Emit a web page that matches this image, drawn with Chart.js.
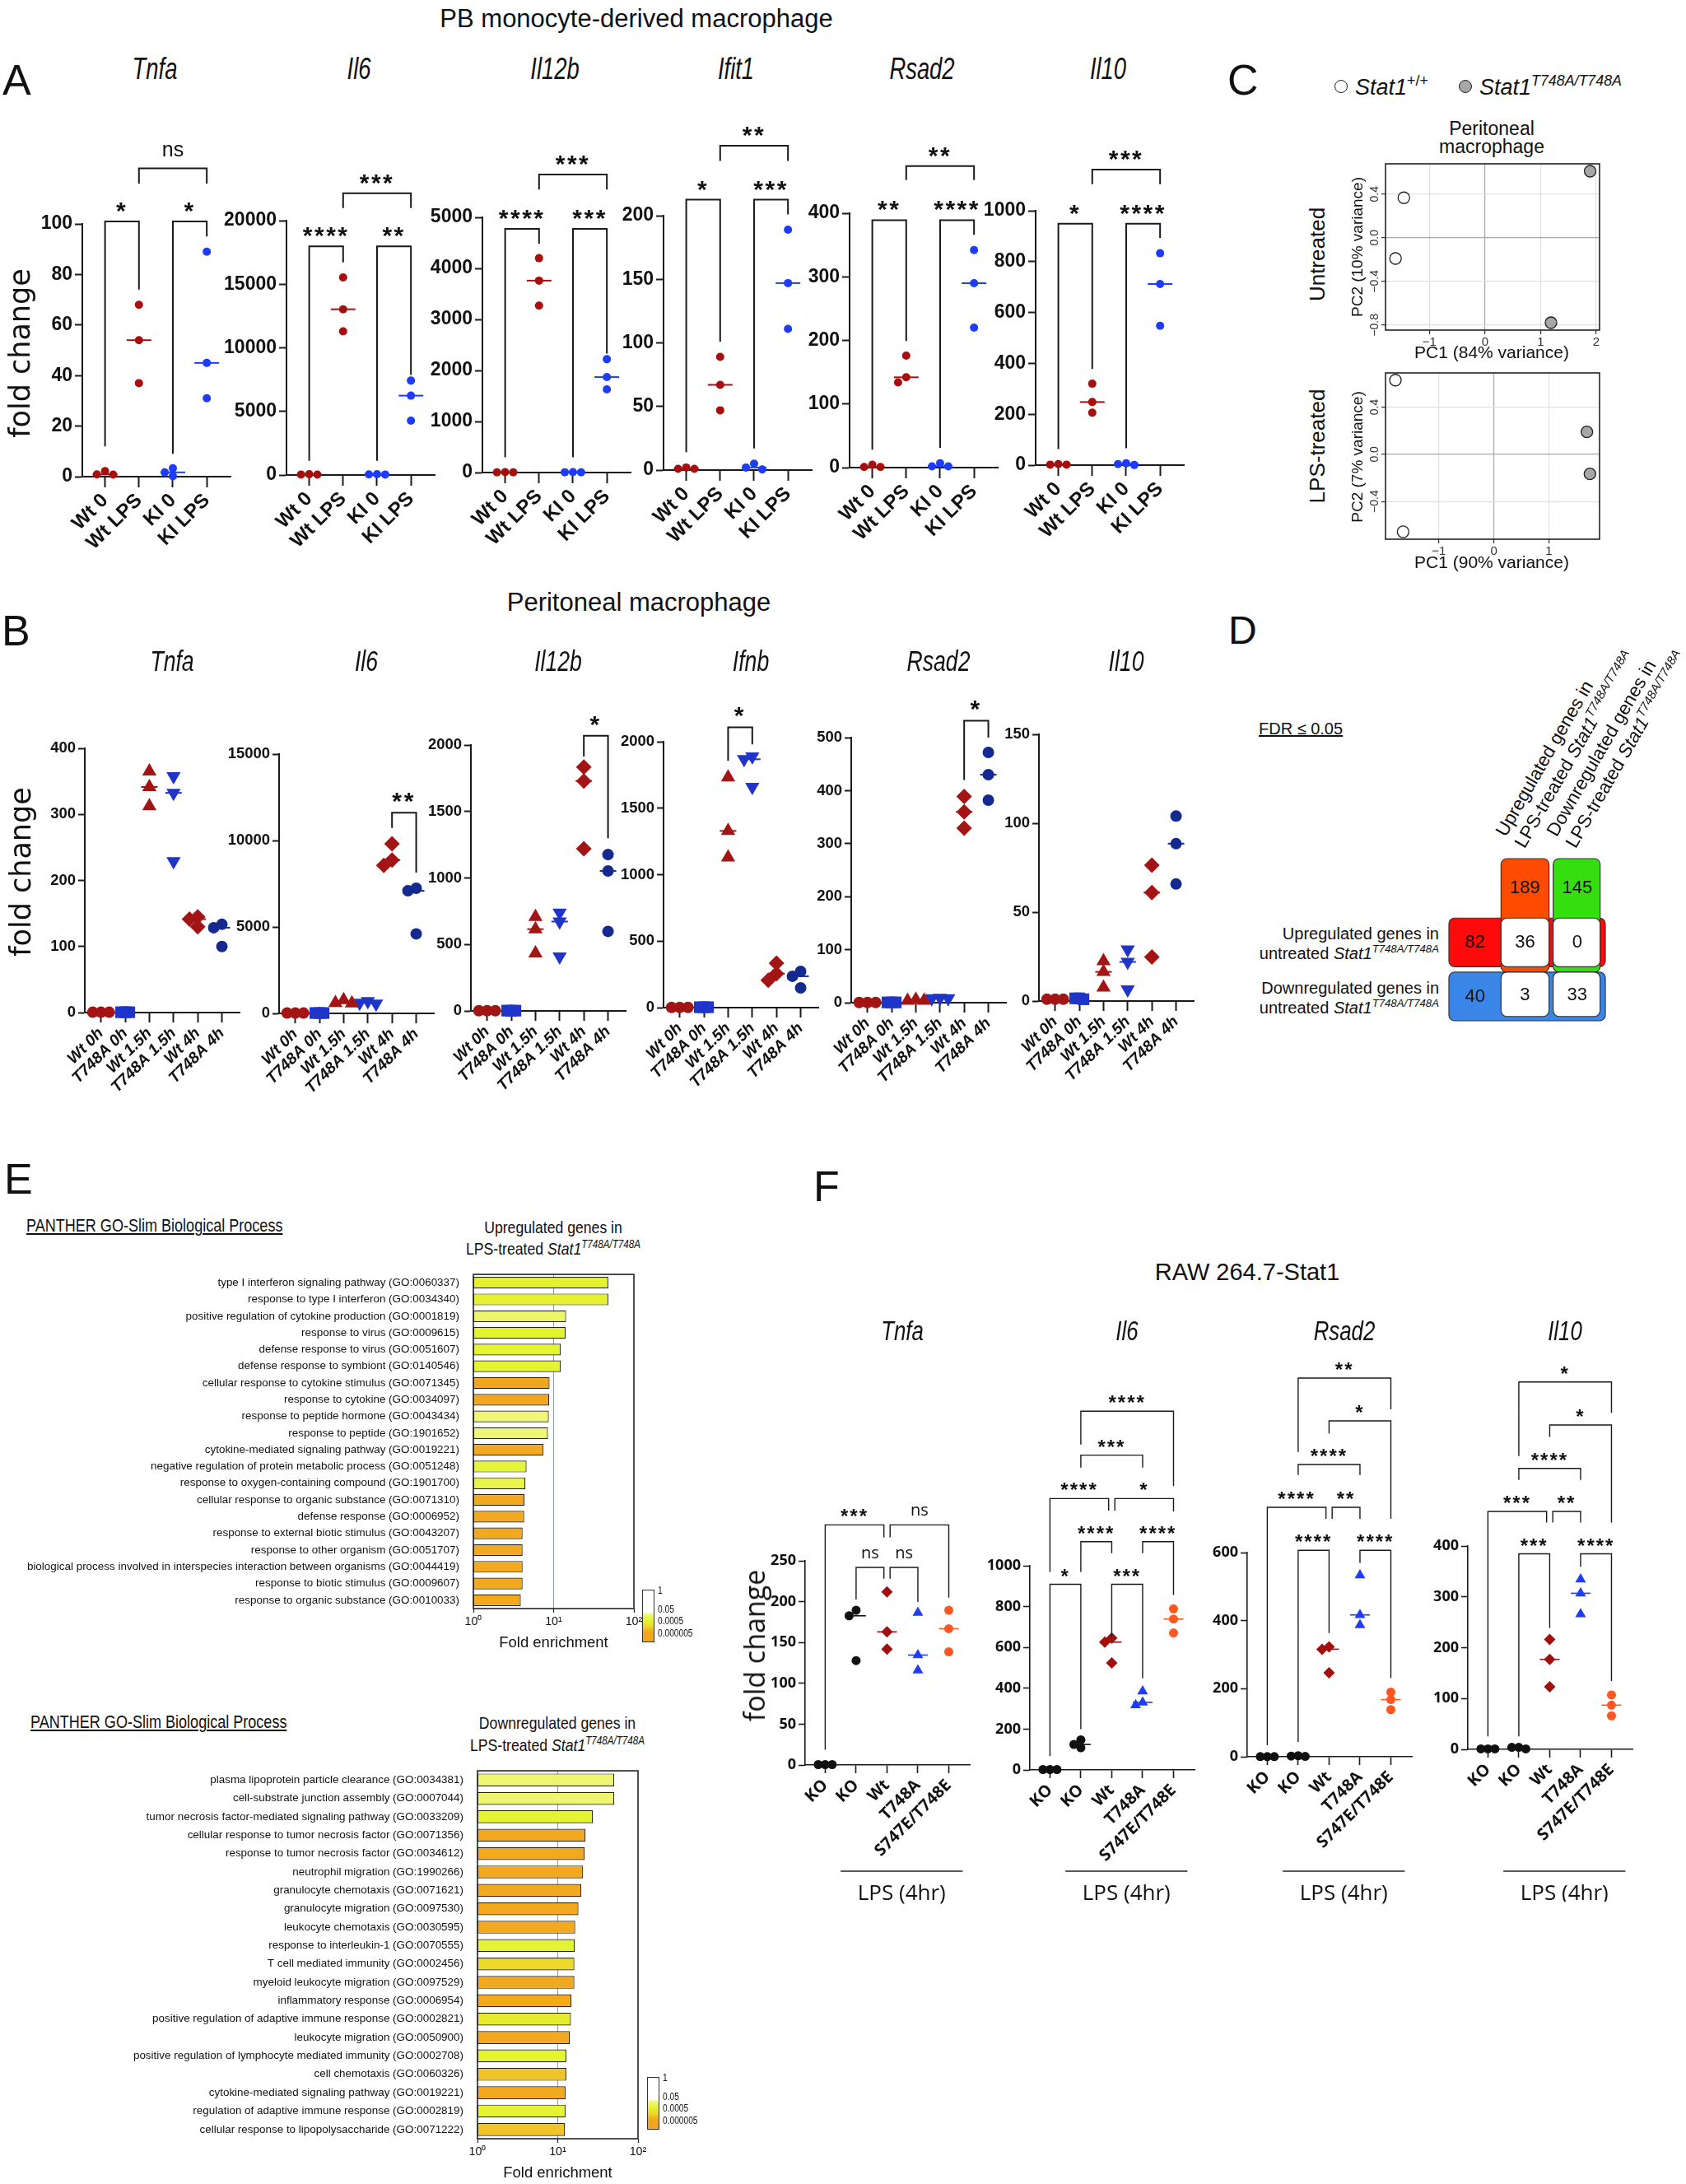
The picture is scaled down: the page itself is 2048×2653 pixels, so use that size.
<!DOCTYPE html>
<html><head><meta charset="utf-8">
<script src="https://cdn.jsdelivr.net/npm/chart.js@4.4.1/dist/chart.umd.min.js"></script>
<style>
html,body{margin:0;padding:0;background:#fff}
#page{position:relative;width:2048px;height:2653px;overflow:hidden;background:#fff;font-family:'Liberation Sans',Arial,sans-serif;color:#111}
#page div.t{position:absolute;white-space:nowrap}
#page canvas{position:absolute}
</style></head>
<body><div id="page"></div>
<script>
// -------------------------------
// Data
// -------------------------------

// A: PB monocyte-derived macrophage (fold change, 3 replicates per group)
const aGenes = ["Tnfa", "Il6", "Il12b", "Ifit1", "Rsad2", "Il10"];
const aCats = ["Wt 0", "Wt LPS", "KI 0", "KI LPS"];
const aTicks = [[0, 20, 40, 60, 80, 100], [0, 5000, 10000, 15000, 20000], [0, 1000, 2000, 3000, 4000, 5000],
                [0, 50, 100, 150, 200], [0, 100, 200, 300, 400], [0, 200, 400, 600, 800, 1000]];
const aTnfa  = [[0.8, 2.2, 0.9], [68, 54, 37], [0.2, 3.3, 1.7], [89, 45, 31]];
const aIl6   = [[40, 60, 30], [15530, 13030, 11290], [50, 70, 40], [7420, 6240, 4270]];
const aIl12b = [[4, 8, 5], [4200, 3760, 3270], [5, 9, 6], [2220, 1870, 1630]];
const aIfit1 = [[1, 2, 1], [89, 67, 47], [0.5, 5, 2], [189, 147, 111]];
const aRsad2 = [[1, 4.5, 1], [176, 142, 134], [2, 6.7, 2], [342, 290, 220]];
const aIl10  = [[2, 4, 2], [320, 248, 206], [0.5, 7, 4], [833, 712, 548]];
// brackets: [from, to, y, left leg end, right leg end, label]
const aBrTnfa  = [[0, 1, 101, 12, 74, "*"], [2, 3, 101, 9, 95, "*"], [1, 3, 122, 116, 116, "ns"]];
const aBrIl6   = [[0, 1, 17980, 1120, 16710, "****"], [2, 3, 17980, 1120, 7865, "**"], [1, 3, 22160, 20980, 20980, "***"]];
const aBrIl12b = [[0, 1, 4776, 300, 4483, "****"], [2, 3, 4776, 300, 2329, "***"], [1, 3, 5839, 5545, 5545, "***"]];
const aBrIfit1 = [[0, 1, 212.6, 14, 101, "*"], [2, 3, 212.6, 17, 201, "***"], [1, 3, 255, 243, 243, "**"]];
const aBrRsad2 = [[0, 1, 389, 28, 199, "**"], [2, 3, 389, 31, 366, "****"], [1, 3, 474, 452, 452, "**"]];
const aBrIl10  = [[0, 1, 949, 63, 378, "*"], [2, 3, 949, 66, 893, "****"], [1, 3, 1162, 1104, 1104, "***"]];

// B: Peritoneal macrophage
const bGenes = ["Tnfa", "Il6", "Il12b", "Ifnb", "Rsad2", "Il10"];
const bCats = ["Wt 0h", "T748A 0h", "Wt 1.5h", "T748A 1.5h", "Wt 4h", "T748A 4h"];
const bTicks = [[0, 100, 200, 300, 400], [0, 5000, 10000, 15000], [0, 500, 1000, 1500, 2000],
                [0, 500, 1000, 1500, 2000], [0, 100, 200, 300, 400, 500], [0, 50, 100, 150]];
const bTnfa  = [[0.5, 0.5, 0.5], [0.5, 0.5, 0.5], [365, 341.5, 312.5], [357.5, 332.5, 229], [145, 141.5, 130], [133.5, 128.5, 100]];
const bIl6   = [[20, 20, 20], [20, 20, 20], [580, 770, 610], [700, 560, 610], [9810, 8870, 8560], [7240, 7090, 4600]];
const bIl12b = [[2, 2, 2], [2, 2, 2], [708, 615, 433], [738, 672, 408], [1835, 1729, 1220], [1176, 1053, 598]];
const bIfnb  = [[2, 2, 2], [3, 3, 3], [1732, 1329, 1130], [1888, 1868, 1660], [335, 256, 206], [273, 236, 149]];
const bRsad2 = [[0.5, 0.5, 0.5], [0.5, 0.5, 0.5], [4, 6, 4], [8, 9, 8], [389, 360, 329], [472, 430, 382]];
const bIl10  = [[1, 1, 1], [1, 1.5, 1.5], [22.4, 16.4, 7.6], [28.9, 22, 6.5], [76.4, 61, 24.8], [104, 88.5, 65.8]];
const bBrIl6 = [[4, 5, 11610, 10730, 8140, "**"]];
const bBrIl12b = [[4, 5, 2069, 1914, 1299, "*"]];
const bBrIfnb = [[2, 3, 2109, 1856, 1980, "*"]];
const bBrRsad2 = [[4, 5, 532, 420, 500, "*"]];

// C: PCA
const cUntrWt = [[-1.46, 0.366], [-1.61, -0.19]];
const cUntrKi = [[1.89, 0.609], [1.186, -0.778]];
const cLpsWt = [[-1.79, 0.629], [-1.65, -0.657]];
const cLpsKi = [[1.69, 0.19], [1.745, -0.166]];
const cUntrXTicks = [-1, 0, 1, 2], cUntrYTicks = [-0.8, -0.4, 0, 0.4];
const cLpsXTicks = [-1, 0, 1], cLpsYTicks = [-0.4, 0, 0.4];

// D: overlap table (FDR <= 0.05)
const dLps = [189, 145];          // up / down in LPS-treated
const dUntr = [82, 40];           // up / down in untreated
const dOverlap = [[36, 0], [3, 33]];

// E: PANTHER GO-Slim
const goUpLabels = [
  "type I interferon signaling pathway (GO:0060337)", "response to type I interferon (GO:0034340)",
  "positive regulation of cytokine production (GO:0001819)", "response to virus (GO:0009615)",
  "defense response to virus (GO:0051607)", "defense response to symbiont (GO:0140546)",
  "cellular response to cytokine stimulus (GO:0071345)", "response to cytokine (GO:0034097)",
  "response to peptide hormone (GO:0043434)", "response to peptide (GO:1901652)",
  "cytokine-mediated signaling pathway (GO:0019221)", "negative regulation of protein metabolic process (GO:0051248)",
  "response to oxygen-containing compound (GO:1901700)", "cellular response to organic substance (GO:0071310)",
  "defense response (GO:0006952)", "response to external biotic stimulus (GO:0043207)",
  "response to other organism (GO:0051707)", "biological process involved in interspecies interaction between organisms (GO:0044419)",
  "response to biotic stimulus (GO:0009607)", "response to organic substance (GO:0010033)"];
const goUpFold = [48, 48, 14.3, 14.1, 12.3, 12.3, 8.9, 8.8, 8.7, 8.5, 7.5, 4.6, 4.45, 4.35, 4.3, 4.1, 4.1, 4.1, 4.1, 3.9];
const goUpP = [4e-4, 4e-4, 5e-3, 5e-4, 5e-4, 5e-4, 5e-6, 5e-6, 8e-3, 8e-3, 6e-6, 7e-4, 1.5e-3, 6e-6, 6e-6, 6e-6, 6e-6, 6e-6, 6e-6, 6e-6];
const goDownLabels = [
  "plasma lipoprotein particle clearance (GO:0034381)", "cell-substrate junction assembly (GO:0007044)",
  "tumor necrosis factor-mediated signaling pathway (GO:0033209)", "cellular response to tumor necrosis factor (GO:0071356)",
  "response to tumor necrosis factor (GO:0034612)", "neutrophil migration (GO:1990266)",
  "granulocyte chemotaxis (GO:0071621)", "granulocyte migration (GO:0097530)",
  "leukocyte chemotaxis (GO:0030595)", "response to interleukin-1 (GO:0070555)",
  "T cell mediated immunity (GO:0002456)", "myeloid leukocyte migration (GO:0097529)",
  "inflammatory response (GO:0006954)", "positive regulation of adaptive immune response (GO:0002821)",
  "leukocyte migration (GO:0050900)", "positive regulation of lymphocyte mediated immunity (GO:0002708)",
  "cell chemotaxis (GO:0060326)", "cytokine-mediated signaling pathway (GO:0019221)",
  "regulation of adaptive immune response (GO:0002819)", "cellular response to lipopolysaccharide (GO:0071222)"];
const goDownFold = [50.4, 50.4, 27.3, 22.2, 21.7, 20.7, 19.7, 18.1, 16.5, 16.3, 16.1, 16.1, 14.8, 14.6, 14.1, 12.8, 12.8, 12.5, 12.5, 12.3];
const goDownP = [7e-3, 7e-3, 5e-4, 6e-6, 6e-6, 6e-6, 6e-6, 6e-6, 6e-6, 5e-4, 1e-4, 6e-6, 6e-6, 3e-4, 6e-6, 5e-4, 3e-5, 6e-6, 5e-4, 3e-5];
const goTicks = [1, 10, 100];
const goTickLabels = ["10\u2070", "10\u00b9", "10\u00b2"];
const pLegend = ["1", "0.05", "0.0005", "0.000005"];

// F: RAW 264.7-Stat1
const fGenes = ["Tnfa", "Il6", "Rsad2", "Il10"];
const fCats = ["KO", "KO", "Wt", "T748A", "S747E/T748E"];
const fTicks = [[0, 50, 100, 150, 200, 250], [0, 200, 400, 600, 800, 1000], [0, 200, 400, 600], [0, 100, 200, 300, 400]];
const fTnfa  = [[0.5, 0.5, 0.5], [189.5, 182.7, 127.8], [212, 163, 142], [186.6, 134.6, 116], [189.5, 166.9, 138.6]];
const fIl6   = [[2, 2, 2], [108.8, 147.4, 124.7], [646, 626, 524], [385.5, 317.5, 331], [789, 739, 671]];
const fRsad2 = [[0.5, 0.5, 0.5], [1, 3, 2], [323, 316, 247], [533.5, 416.7, 386.8], [190, 168, 138.5]];
const fIl10  = [[1, 1, 1], [1, 4, 4], [216, 177, 123], [334.5, 307, 266], [107, 87, 66]];
// [from, to, y, left leg end, right leg end, label, from shift, to shift]
const fBrTnfa = [[0, 2, 294, 18.7, 278.8, "***", 0, -0.1], [2, 4, 294, 278.8, 205, "ns", 0.1, 0],
                 [1, 2, 242, 202.5, 228, "ns", 0, -0.1], [2, 3, 242, 228, 199.7, "ns", 0.1, 0]];
const fBrIl6 = [[0, 1, 909, 68, 199.5, "*"], [2, 3, 909, 653, 449, "***"], [1, 2, 1118, 970, 1061, "****"],
                [3, 4, 1118, 1061, 857, "****"], [0, 2, 1329, 970, 1270, "****", 0, -0.1], [2, 4, 1329, 1270, 1266, "*", 0.1, 0],
                [1, 3, 1542, 1481, 1481, "***"], [1, 4, 1757, 1594, 1390, "****"]];
const fBrRsad2 = [[1, 2, 606.8, 43.4, 363.8, "****"], [3, 4, 606.8, 570, 230.8, "****"], [0, 2, 733, 34, 699, "****", 0, -0.1],
                  [2, 3, 733, 699, 699, "**", 0.1, 0], [1, 3, 859, 828, 828, "****"], [2, 4, 987, 950, 699, "*"],
                  [1, 4, 1113, 896, 1021, "**"]];
const fBrIl10 = [[1, 2, 384.5, 25.5, 239, "***"], [3, 4, 384.5, 359, 134.5, "****"], [0, 2, 468, 25.5, 446, "***", 0, -0.1],
                 [2, 3, 468, 446, 446, "**", 0.1, 0], [1, 3, 552.7, 530, 530, "****"], [2, 4, 638, 614.5, 446, "*"],
                 [1, 4, 722.7, 577, 662, "*"]];

// -------------------------------
// Helpers
// -------------------------------
const page = document.getElementById("page");
const SANS = "'Liberation Sans', Arial, sans-serif";
const OPEN = "'Open Sans', 'Liberation Sans', sans-serif";

function hasFont(name) {
    const c = document.createElement("canvas").getContext("2d");
    const s = "mmmmmmmmmmlli WWW 0123456789";
    c.font = "40px monospace";
    const a = c.measureText(s).width;
    c.font = `40px '${name}', monospace`;
    return c.measureText(s).width !== a;
}
const NARROW_OK = hasFont("Liberation Sans Narrow");
const NARROW = NARROW_OK ? "'Liberation Sans Narrow', 'Liberation Sans', sans-serif" : SANS;
const NK = NARROW_OK ? 1 : 0.84;

function addCanvas(l, t, w, h) {
    const c = document.createElement("canvas");
    c.width = Math.round(w); c.height = Math.round(h);
    c.style.left = Math.round(l) + "px"; c.style.top = Math.round(t) + "px";
    c.style.width = Math.round(w) + "px"; c.style.height = Math.round(h) + "px";
    page.appendChild(c);
    return c;
}

function txt(html, x, base, fs, css = "", align = "left", sx = 1) {
    const d = document.createElement("div");
    d.className = "t";
    d.innerHTML = html;
    const tx = align === "center" ? "-50%" : align === "right" ? "-100%" : "0";
    const ox = align === "center" ? "50%" : align === "right" ? "100%" : "0";
    d.style.cssText = `left:${x}px;top:${base - 0.85 * fs}px;font-size:${fs}px;line-height:${fs}px;` +
        `transform-origin:${ox} 50%;transform:translateX(${tx}) scaleX(${sx});${css}`;
    page.appendChild(d);
    return d;
}
function vtxt(html, cx, cy, fs, css = "") {
    const d = document.createElement("div");
    d.className = "t";
    d.innerHTML = html;
    d.style.cssText = `left:${cx}px;top:${cy}px;font-size:${fs}px;line-height:${fs}px;transform:translate(-50%,-50%) rotate(-90deg);${css}`;
    page.appendChild(d);
}
function stxt(html, bx, by, fs, deg) {
    const d = document.createElement("div");
    d.className = "t";
    d.innerHTML = html;
    d.style.cssText = `left:${bx}px;top:${by - 0.85 * fs}px;font-size:${fs}px;line-height:${fs}px;transform-origin:0 ${0.85 * fs}px;transform:rotate(${deg}deg)`;
    page.appendChild(d);
}
const sup = s => `<span style="font-size:0.66em;position:relative;top:-0.62em">${s}</span>`;
const stat1 = `<i>Stat1</i>${sup("<i>T748A/T748A</i>")}`;

function median(a) {
    const s = [...a].sort((p, q) => p - q);
    return s[Math.floor(s.length / 2)];
}

// spread overlapping replicate points sideways (like a scatter dot plot)
function dodge(vals, pxY, pxX, gap) {
    const step = gap / pxX;
    const cand = [0, -step, step, -2 * step, 2 * step];
    const order = vals.map((v, i) => i).sort((a, b) => vals[b] - vals[a]);
    const placed = [], offs = vals.map(() => 0);
    order.forEach(i => {
        let c = cand.find(c => placed.every(p => Math.hypot((p.x - c) * pxX, (p.v - vals[i]) * pxY) >= gap - 0.5));
        if (c === undefined) c = 0;
        offs[i] = c;
        placed.push({ x: c, v: vals[i] });
    });
    return offs;
}

function pColor(p) {
    const t = -Math.log10(p);
    const stops = [[0, [255, 255, 255]], [1.3, [246, 248, 175]], [2.2, [238, 245, 110]], [3.3, [228, 244, 48]],
                   [4.3, [240, 205, 40]], [5.3, [242, 166, 30]]];
    if (t >= stops[stops.length - 1][0]) return `rgb(${stops[stops.length - 1][1].join(",")})`;
    for (let i = 1; i < stops.length; i++) {
        if (t <= stops[i][0]) {
            const [t0, c0] = stops[i - 1], [t1, c1] = stops[i];
            const f = (t - t0) / (t1 - t0);
            return `rgb(${c0.map((c, k) => Math.round(c + (c1[k] - c) * f)).join(",")})`;
        }
    }
}

// -------------------------------
// Plugins
// -------------------------------
const bracketPlugin = {
    id: "brackets",
    afterDatasetsDraw(chart) {
        const list = chart.canvas._brackets, o = chart.canvas._br;
        if (!list) return;
        const { ctx, scales: { x, y } } = chart;
        ctx.save();
        ctx.strokeStyle = "#1a1a1a"; ctx.fillStyle = "#111"; ctx.lineWidth = o.lw;
        ctx.textAlign = "center"; ctx.textBaseline = "alphabetic";
        list.forEach(([a, b, yv, ya, yb, t, da = 0, db = 0]) => {
            const x1 = x.getPixelForValue(a + da), x2 = x.getPixelForValue(b + db), py = y.getPixelForValue(yv);
            ctx.beginPath();
            ctx.moveTo(x1, y.getPixelForValue(ya)); ctx.lineTo(x1, py);
            ctx.lineTo(x2, py); ctx.lineTo(x2, y.getPixelForValue(yb));
            ctx.stroke();
            const star = t.indexOf("*") >= 0;
            ctx.font = star ? o.starFont : o.nsFont;
            ctx.letterSpacing = star ? o.sp : "0px";
            ctx.fillText(t, (x1 + x2) / 2, py - (star ? o.starOff : o.nsOff));
        });
        ctx.restore();
    }
};

const lpsPlugin = {
    id: "lps",
    afterDraw(chart) {
        const L = chart.canvas._lps;
        if (!L) return;
        const { ctx, scales: { x, y } } = chart;
        const y0 = y.getPixelForValue(0), x1 = x.getPixelForValue(L.from), x2 = x.getPixelForValue(L.to);
        ctx.save();
        ctx.strokeStyle = "#222"; ctx.lineWidth = 1.6;
        ctx.beginPath(); ctx.moveTo(x1, y0 + L.lineDy); ctx.lineTo(x2, y0 + L.lineDy); ctx.stroke();
        ctx.font = L.font; ctx.fillStyle = "#111"; ctx.textAlign = "center";
        ctx.fillText(L.text, (x1 + x2) / 2, y0 + L.textDy);
        ctx.restore();
    }
};

const framePlugin = {
    id: "frame",
    afterDraw(chart) {
        if (!chart.canvas._frame) return;
        const { ctx, chartArea: a } = chart;
        ctx.save();
        ctx.strokeStyle = "#222"; ctx.lineWidth = chart.canvas._frame;
        ctx.strokeRect(a.left, a.top, a.right - a.left, a.bottom - a.top);
        ctx.restore();
    }
};

const pcaYPlugin = {
    id: "pcay",
    afterDraw(chart) {
        const yt = chart.canvas._yt;
        if (!yt) return;
        const { ctx, chartArea: a, scales: { y } } = chart;
        ctx.save();
        ctx.font = `14px ${SANS}`; ctx.fillStyle = "#333"; ctx.textAlign = "center"; ctx.textBaseline = "alphabetic";
        yt.forEach(v => {
            ctx.save();
            ctx.translate(a.left - 9, y.getPixelForValue(v));
            ctx.rotate(-Math.PI / 2);
            ctx.fillText((v < 0 ? "\u2212" : "") + Math.abs(v).toFixed(1), 0, 0);
            ctx.restore();
        });
        ctx.restore();
    }
};

// -------------------------------
// Dot plot (GraphPad style)
// -------------------------------
function dotChart(o) {
    const plotH = o.yZero - o.yTop;
    const cv = addCanvas(o.axisX - o.yAxisW, o.yTop - o.padTop, o.yAxisW + o.plotW + o.padR, o.padTop + plotH + o.xAxisH);
    cv._brackets = o.brackets; cv._br = o.br; cv._lps = o.lps;
    const ymax = o.ticks[o.ticks.length - 1];
    const pxY = plotH / ymax, pxX = o.plotW / (o.xmax - o.xmin);
    const datasets = [];
    o.groups.forEach((vals, i) => {
        const st = o.styles[i];
        const offs = dodge(vals, pxY, pxX, st.gap || o.gap);
        const m = median(vals), hw = o.medHalf / pxX;
        datasets.push({ data: [{ x: i - hw, y: m }, { x: i + hw, y: m }], showLine: true, borderColor: st.color,
                        borderWidth: o.medW, pointRadius: 0, clip: false });
        datasets.push({ data: vals.map((v, k) => ({ x: i + offs[k], y: v })), showLine: false,
                        pointStyle: st.shape, pointRotation: st.rot || 0, pointRadius: st.r,
                        pointBackgroundColor: st.color, pointBorderColor: st.color, pointBorderWidth: 0, clip: false });
    });
    const ax = "#1a1a1a";
    return new Chart(cv, {
        type: "scatter",
        data: { datasets },
        options: {
            responsive: false, animation: false, events: [], devicePixelRatio: 1,
            layout: { padding: { top: o.padTop, right: o.padR, left: 0, bottom: 0 }, autoPadding: false },
            plugins: { legend: { display: false }, tooltip: { enabled: false } },
            scales: {
                x: {
                    type: "linear", min: o.xmin, max: o.xmax,
                    afterBuildTicks: s => { s.ticks = o.cats.map((c, i) => ({ value: i })); },
                    afterFit: s => { s.height = o.xAxisH; },
                    ticks: { autoSkip: false, minRotation: 45, maxRotation: 45, padding: o.catPad, font: o.catFont,
                             color: "#111", callback: v => o.cats[v] },
                    grid: { drawOnChartArea: false, drawTicks: true, tickLength: o.xTickLen, tickColor: ax, tickWidth: o.axisW },
                    border: { color: ax, width: o.axisW }
                },
                y: {
                    type: "linear", min: 0, max: ymax,
                    afterBuildTicks: s => { s.ticks = o.ticks.map(v => ({ value: v })); },
                    afterFit: s => { s.width = o.yAxisW; },
                    ticks: { padding: 3, font: o.tickFont, color: "#111", callback: v => String(v) },
                    grid: { drawOnChartArea: false, drawTicks: true, tickLength: o.yTickLen, tickColor: ax, tickWidth: o.axisW },
                    border: { color: ax, width: o.axisW }
                }
            }
        },
        plugins: [bracketPlugin, lpsPlugin]
    });
}

// -------------------------------
// Panel A
// -------------------------------
const aData = [aTnfa, aIl6, aIl12b, aIfit1, aRsad2, aIl10];
const aBr = [aBrTnfa, aBrIl6, aBrIl12b, aBrIfit1, aBrRsad2, aBrIl10];
const aAxisX = [100, 348, 586, 806, 1032, 1258];
const aTop = [272, 268, 264, 261.5, 259, 256];
const aZero = [579, 577, 574, 570, 568, 565];
const aRed = "#a70f0f", aBlue = "#1d3cfb";
const aStyles = [{ shape: "circle", r: 5, color: aRed }, { shape: "circle", r: 5, color: aRed },
                 { shape: "circle", r: 5, color: aBlue }, { shape: "circle", r: 5, color: aBlue }];
aGenes.forEach((g, i) => {
    dotChart({
        axisX: aAxisX[i], yTop: aTop[i], yZero: aZero[i], plotW: 180, xmin: -0.67, xmax: 3.7,
        padTop: 140, padR: 8, yAxisW: 90, xAxisH: 115,
        ticks: aTicks[i], cats: aCats, groups: aData[i], styles: aStyles, brackets: aBr[i],
        gap: 9.9, medHalf: 15, medW: 2, axisW: 2, yTickLen: 9, xTickLen: 13, catPad: 2,
        tickFont: { family: SANS, size: 23, weight: "bold" }, catFont: { family: SANS, size: 24, weight: "bold" },
        br: { lw: 2, starFont: `bold 30px ${SANS}`, nsFont: `25px ${SANS}`, starOff: 3, nsOff: 14, sp: "2.5px" }
    });
    txt(`<i>${g}</i>`, aAxisX[i] + 88, 96, 37, "", "center", 0.74);
});
txt("PB monocyte-derived macrophage", 773, 33, 31, "", "center");
txt("A", 3, 115, 52);
vtxt("fold change", 24, 429, 35, "font-family:'DejaVu Sans',sans-serif");

// -------------------------------
// Panel B
// -------------------------------
const bData = [bTnfa, bIl6, bIl12b, bIfnb, bRsad2, bIl10];
const bBr = [[], bBrIl6, bBrIl12b, bBrIfnb, bBrRsad2, []];
const bAxisX = [103, 339, 572, 806, 1034, 1262];
const bTop = [909, 915.5, 905, 901, 896, 892];
const bZero = [1230, 1230, 1228, 1224, 1218, 1215.5];
const bRed = "#a31515", bBlue = "#1f35c8", bNavy = "#142a8e";
const bStyles = [{ shape: "circle", r: 7, color: bRed }, { shape: "rect", r: 10, color: bBlue, gap: 5 },
                 { shape: "triangle", r: 10, color: bRed }, { shape: "triangle", rot: 180, r: 10, color: bBlue },
                 { shape: "rectRot", r: 9.5, color: bRed }, { shape: "circle", r: 7, color: bNavy }];
bGenes.forEach((g, i) => {
    dotChart({
        axisX: bAxisX[i], yTop: bTop[i], yZero: bZero[i], plotW: 188, xmin: -0.67, xmax: 5.73,
        padTop: 90, padR: 8, yAxisW: 72, xAxisH: 125,
        ticks: bTicks[i], cats: bCats, groups: bData[i], styles: bStyles, brackets: bBr[i],
        gap: 10, medHalf: 10, medW: 2, axisW: 2, yTickLen: 8, xTickLen: 12, catPad: 2,
        tickFont: { family: NARROW, size: 22 * NK, weight: "bold" },
        catFont: { family: NARROW, size: 23 * NK, weight: "bold", style: "italic" },
        br: { lw: 2, starFont: `bold 30px ${SANS}`, nsFont: `24px ${SANS}`, starOff: 4, nsOff: 14, sp: "3px" }
    });
    txt(`<i>${g}</i>`, bAxisX[i] + 106, 815, 35, "", "center", 0.76);
});
txt("Peritoneal macrophage", 776, 742, 31, "", "center");
txt("B", 2, 784, 52);
vtxt("fold change", 25, 1059, 35, "font-family:'DejaVu Sans',sans-serif");

// -------------------------------
// Panel C (PCA)
// -------------------------------
function pcaChart(o) {
    const yW = 42, pT = 4, pR = 6, xH = 28;
    const cv = addCanvas(o.l - yW, o.t - pT, yW + o.r - o.l + pR, pT + o.b - o.t + xH);
    cv._yt = o.yt; cv._frame = 1.6;
    const gridCol = c => (c.tick && c.tick.value === 0 ? "#a8a8a8" : "#e1e1e1");
    const pt = (data, fill) => ({ data: data.map(p => ({ x: p[0], y: p[1] })), pointRadius: 7, pointBackgroundColor: fill,
                                  pointBorderColor: "#222", pointBorderWidth: 1.3, clip: false });
    new Chart(cv, {
        type: "scatter",
        data: { datasets: [pt(o.wt, "#ffffff"), pt(o.ki, "#a6a6a6")] },
        options: {
            responsive: false, animation: false, events: [], devicePixelRatio: 1,
            layout: { padding: { top: pT, right: pR, left: 0, bottom: 0 }, autoPadding: false },
            plugins: { legend: { display: false }, tooltip: { enabled: false } },
            scales: {
                x: { type: "linear", min: o.xr[0], max: o.xr[1],
                     afterBuildTicks: s => { s.ticks = o.xt.map(v => ({ value: v })); },
                     afterFit: s => { s.height = xH; },
                     ticks: { font: { family: SANS, size: 15 }, color: "#333", padding: 1,
                              callback: v => (v < 0 ? "\u2212" : "") + Math.abs(v) },
                     grid: { color: gridCol, lineWidth: 1.2, tickLength: 5, tickColor: "#333", tickWidth: 1.2 },
                     border: { display: false } },
                y: { type: "linear", min: o.yr[0], max: o.yr[1],
                     afterBuildTicks: s => { s.ticks = o.yt.map(v => ({ value: v })); },
                     afterFit: s => { s.width = yW; },
                     ticks: { display: false },
                     grid: { color: gridCol, lineWidth: 1.2, tickLength: 5, tickColor: "#333", tickWidth: 1.2 },
                     border: { display: false } }
            }
        },
        plugins: [framePlugin, pcaYPlugin]
    });
}
pcaChart({ l: 1682.5, r: 1942.5, t: 199, b: 401, xr: [-1.79, 2.06], yr: [-0.846, 0.677],
           xt: cUntrXTicks, yt: cUntrYTicks, wt: cUntrWt, ki: cUntrKi });
pcaChart({ l: 1682.5, r: 1942.5, t: 453, b: 655, xr: [-1.97, 1.92], yr: [-0.72, 0.69],
           xt: cLpsXTicks, yt: cLpsYTicks, wt: cLpsWt, ki: cLpsKi });
txt("C", 1491, 115, 52);
(function legendC() {
    const dot = (x, fill) => {
        const d = document.createElement("div");
        d.style.cssText = `position:absolute;left:${x - 8}px;top:97px;width:16px;height:16px;box-sizing:border-box;border:1.3px solid #222;border-radius:50%;background:${fill}`;
        page.appendChild(d);
    };
    dot(1629, "#fff"); dot(1780, "#a6a6a6");
})();
txt(`<i>Stat1</i>${sup("+/+")}`, 1646, 116, 27);
txt(`<i>Stat1</i>${sup("<i>T748A/T748A</i>")}`, 1797, 116, 27);
txt("Peritoneal", 1812, 165, 23, "", "center");
txt("macrophage", 1812, 187, 23, "", "center");
txt("PC1 (84% variance)", 1812, 435, 21, "", "center");
txt("PC1 (90% variance)", 1812, 690, 21, "", "center");
vtxt("PC2 (10% variance)", 1648, 300, 19);
vtxt("PC2 (7% variance)", 1648, 555, 19);
vtxt("Untreated", 1600, 309, 26);
vtxt("LPS-treated", 1600, 542, 26);

// -------------------------------
// Panel D (overlap grid)
// -------------------------------
const dPlugin = {
    id: "dgrid",
    afterDraw(chart) {
        const { ctx, scales: { x, y } } = chart;
        const X = v => x.getPixelForValue(v), Y = v => y.getPixelForValue(v);
        const box = (x1, y1, x2, y2, fill) => {
            ctx.beginPath();
            ctx.roundRect(X(x1), Y(y1), X(x2) - X(x1), Y(y2) - Y(y1), 7);
            ctx.fillStyle = fill; ctx.fill();
            ctx.lineWidth = 1.2; ctx.strokeStyle = "#333"; ctx.stroke();
        };
        const rowC = ["#ff0a0a", "#3a86e8"], colC = ["#ff4b00", "#35de0f"];
        ctx.save();
        [0, 1].forEach(r => box(0, 1.1 + r, 3, 2.0 + r, rowC[r]));
        [0, 1].forEach(c => box(1 + c, 0, 1.92 + c * 0.98, 2.1, colC[c]));
        [0, 1].forEach(r => [0, 1].forEach(c => box(1 + c, 1.1 + r, 1.92 + c * 0.98, 2.0 + r * 0.92, "#fff")));
        ctx.font = `22px ${SANS}`; ctx.fillStyle = "#111"; ctx.textAlign = "center"; ctx.textBaseline = "middle";
        dLps.forEach((n, c) => ctx.fillText(String(n), X(1.46 + c), Y(0.55)));
        dUntr.forEach((n, r) => ctx.fillText(String(n), X(0.5), Y(1.55 + r)));
        dOverlap.forEach((row, r) => row.forEach((n, c) => ctx.fillText(String(n), X(1.46 + c), Y(1.55 + r * 0.97))));
        ctx.restore();
    }
};
(function panelD() {
    const cv = addCanvas(1750, 1035, 210, 215);
    new Chart(cv, {
        type: "scatter", data: { datasets: [] },
        options: {
            responsive: false, animation: false, events: [], devicePixelRatio: 1,
            layout: { padding: { left: 10, top: 8, right: 10, bottom: 10 }, autoPadding: false },
            plugins: { legend: { display: false }, tooltip: { enabled: false } },
            scales: { x: { type: "linear", min: 0, max: 3, display: false },
                      y: { type: "linear", min: 0, max: 3, reverse: true, display: false } }
        },
        plugins: [dPlugin]
    });
})();
txt("D", 1492, 783, 48);
txt("FDR \u2264 0.05", 1529, 892, 20, "text-decoration:underline");
txt("Upregulated genes in", 1748, 1141, 20, "", "right");
txt(`untreated ${stat1}`, 1748, 1165, 20, "", "right");
txt("Downregulated genes in", 1748, 1207, 20, "", "right");
txt(`untreated ${stat1}`, 1748, 1231, 20, "", "right");
stxt("Upregulated genes in", 1830, 1018, 22.5, -60);
stxt(`LPS-treated ${stat1}`, 1853, 1032, 22.5, -60);
stxt("Downregulated genes in", 1892, 1018, 22.5, -60);
stxt(`LPS-treated ${stat1}`, 1915, 1032, 22.5, -60);

// -------------------------------
// Panel E (GO enrichment)
// -------------------------------
function goChart(o) {
    const padTop = 8, xAxisH = 56, padR = 14;
    const cv = addCanvas(0, o.top - padTop, o.right + padR, padTop + (o.bottom - o.top) + xAxisH);
    cv._frame = 1.6;
    new Chart(cv, {
        type: "bar",
        data: { labels: o.labels, datasets: [{ data: o.vals, backgroundColor: o.pvals.map(pColor), borderColor: "#222",
                 borderWidth: 1.2, borderSkipped: false, barPercentage: 0.7, categoryPercentage: 1 }] },
        options: {
            indexAxis: "y", responsive: false, animation: false, events: [], devicePixelRatio: 1,
            layout: { padding: { top: padTop, right: padR, left: 0, bottom: 0 }, autoPadding: false },
            plugins: { legend: { display: false }, tooltip: { enabled: false } },
            scales: {
                x: { type: "logarithmic", min: 1, max: 100,
                     afterBuildTicks: s => { s.ticks = goTicks.map(v => ({ value: v })); },
                     afterFit: s => { s.height = xAxisH; },
                     ticks: { font: { family: NARROW, size: 17 * NK }, color: "#111", padding: 2,
                              callback: v => goTickLabels[goTicks.indexOf(v)] },
                     grid: { color: c => (c.tick && c.tick.value === 10 ? "#8d9db0" : "rgba(0,0,0,0)"), lineWidth: 1,
                             drawTicks: true, tickLength: 5, tickColor: "#222", tickWidth: 1.2 },
                     border: { display: false },
                     title: { display: true, text: "Fold enrichment", font: { family: NARROW, size: 22 * NK }, color: "#111",
                              padding: { top: 0, bottom: 3 } } },
                y: { afterFit: s => { s.width = o.left; },
                     ticks: { font: { family: NARROW, size: 16 * NK }, color: "#111", padding: 9, autoSkip: false },
                     grid: { display: false }, border: { display: false } }
            }
        },
        plugins: [framePlugin]
    });
}
goChart({ top: 1539, bottom: 1954, left: 575, right: 770, labels: goUpLabels, vals: goUpFold, pvals: goUpP });
goChart({ top: 2142, bottom: 2598, left: 580, right: 775, labels: goDownLabels, vals: goDownFold, pvals: goDownP });
txt("E", 5, 1450, 52);
txt("PANTHER GO-Slim Biological Process", 32, 1497, 22, "text-decoration:underline", "left", 0.82);
txt("Upregulated genes in", 672, 1498, 21, "", "center", 0.84);
txt(`LPS-treated ${stat1}`, 672, 1524, 21, "", "center", 0.84);
txt("PANTHER GO-Slim Biological Process", 37, 2100, 22, "text-decoration:underline", "left", 0.82);
txt("Downregulated genes in", 677, 2100, 21, "", "center", 0.84);
txt(`LPS-treated ${stat1}`, 677, 2127, 21, "", "center", 0.84);
function colorBar(x, top) {
    const d = document.createElement("div");
    d.style.cssText = `position:absolute;left:${x}px;top:${top}px;width:15px;height:64px;box-sizing:border-box;border:1px solid #333;` +
        `background:linear-gradient(to bottom,#fff 0%,#fff 42%,${pColor(0.01)} 47%,${pColor(5e-4)} 58%,${pColor(1e-4)} 70%,${pColor(5e-6)} 82%,${pColor(5e-6)} 100%)`;
    page.appendChild(d);
    const ys = [5, 28, 42, 57];
    pLegend.forEach((s, i) => txt(s, x + 19, top + ys[i], 12, "", "left", 0.85));
}
colorBar(780, 1931);
colorBar(786, 2523);

// -------------------------------
// Panel F
// -------------------------------
const fData = [fTnfa, fIl6, fRsad2, fIl10];
const fBr = [fBrTnfa, fBrIl6, fBrRsad2, fBrIl10];
const fAxisX = [978, 1251, 1515, 1783];
const fTop = [1896, 1902, 1886, 1878];
const fZero = [2144, 2150, 2134, 2125];
const fStyles = [{ shape: "circle", r: 5.5, color: "#111111" }, { shape: "circle", r: 5.5, color: "#111111" },
                 { shape: "rectRot", r: 7, color: "#a10f0f" }, { shape: "triangle", r: 7.5, color: "#1f3df2" },
                 { shape: "circle", r: 5.5, color: "#ff5722" }];
fGenes.forEach((g, i) => {
    dotChart({
        axisX: fAxisX[i], yTop: fTop[i], yZero: fZero[i], plotW: 200, xmin: -0.65, xmax: 4.68,
        padTop: 270, padR: 8, yAxisW: 72, xAxisH: 185,
        ticks: fTicks[i], cats: fCats, groups: fData[i], styles: fStyles, brackets: fBr[i],
        gap: 8.5, medHalf: 12, medW: 1.6, axisW: 1.6, yTickLen: 8, xTickLen: 10, catPad: 3,
        tickFont: { family: OPEN, size: 18, weight: "bold" }, catFont: { family: OPEN, size: 20, weight: "bold" },
        br: { lw: 1.4, starFont: `bold 24px ${SANS}`, nsFont: `20px ${OPEN}`, starOff: 2, nsOff: 11, sp: "2px" },
        lps: { text: "LPS (4hr)", from: 0.5, to: 4.45, lineDy: 2273 - fZero[i], textDy: 2308 - fZero[i], font: `26px ${OPEN}` }
    });
    txt(`<i>${g}</i>`, fAxisX[i] + 118, 1628, 34, "", "center", 0.76);
});
txt("RAW 264.7-Stat1", 1515, 1556, 29, "", "center");
txt("F", 988, 1459, 52);
vtxt("fold change", 916, 1999, 34, `font-family:${OPEN}`);
</script>
</body></html>
